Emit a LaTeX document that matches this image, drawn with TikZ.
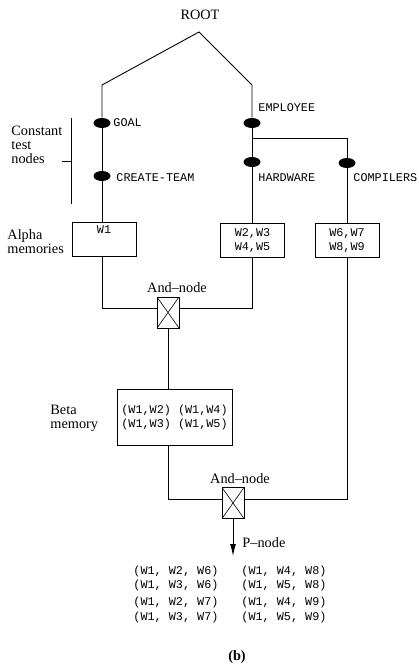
\documentclass[tikz,border=0pt]{standalone}
\usepackage{fontspec}
\setmainfont{Liberation Serif}
\setmonofont{Liberation Mono}
\usetikzlibrary{arrows.meta, positioning, shapes.geometric}

\begin{document}
\begin{tikzpicture}[x=1pt, y=-1pt,
  line width=0.9pt,
  tst/.style={ellipse, fill=black, minimum width=17pt, minimum height=10pt, inner sep=0pt},
  mem/.style={draw, minimum width=64pt, minimum height=34pt, inner sep=1pt, align=center,
    font=\ttfamily\fontsize{11.8}{14}\selectfont},
  andnode/.style={draw, minimum width=22pt, minimum height=31pt, inner sep=0pt,
    path picture={\draw[line width=0.6pt] (path picture bounding box.north west) -- (path picture bounding box.south east)
      (path picture bounding box.south west) -- (path picture bounding box.north east);}},
  lbl/.style={font=\fontsize{14.3}{13.8}\selectfont, inner sep=0pt, align=left},
  tt/.style={font=\ttfamily\fontsize{11.8}{14}\selectfont, inner sep=0pt}
]
  \useasboundingbox (0,0) rectangle (419,668);

  % root and constant test nodes
  \node[lbl] (root) at (200,15) {ROOT};
  \coordinate (apex) at (199,32);
  \coordinate (lk) at (102,85);
  \coordinate (rk) at (252,85);
  \node[tst] (goal) at (102,123) {};
  \node[tst] (emp)  at (252,123) {};
  \node[tst] (ct)   at (102,176) {};
  \node[tst] (hw)   at (252,162) {};
  \node[tst] (comp) at (347,163) {};
  \coordinate (br) at (252,138);
  \node[tt, anchor=west] (goallbl) at (113,123) {GOAL};
  \node[tt, anchor=west] (emplbl)  at (258,108) {EMPLOYEE};
  \node[tt, anchor=west] (ctlbl)   at (116,178) {CREATE-TEAM};
  \node[tt, anchor=west] (hwlbl)   at (258,178) {HARDWARE};
  \node[tt, anchor=west] (complbl) at (353,178) {COMPILERS};

  % alpha memories
  \node[mem] (am1) at (104,239.5) {W1\\[5pt]};
  \node[mem] (am2) at (252.5,240.5) {W2,W3\\W4,W5};
  \node[mem] (am3) at (347,240.5) {W6,W7\\W8,W9};

  % and-nodes and beta memory
  \node[andnode] (and1) at (168,312.5) {};
  \node[lbl, above=3pt of and1, xshift=9pt] (and1lbl) {And--node};
  \node[mem, minimum width=115pt, minimum height=56pt] (beta) at (174.5,417) {(W1,W2) (W1,W4)\\(W1,W3) (W1,W5)};
  \node[andnode] (and2) at (233,503) {};
  \node[lbl, above=3pt of and2, xshift=7pt] (and2lbl) {And--node};
  \coordinate (pend) at (233,556);
  \node[lbl, anchor=west] (plbl) at (242,543) {P--node};

  % side labels
  \node[lbl, anchor=west] (ctn)   at (11,145) {Constant\\test\\nodes};
  \node[lbl, anchor=west] (alpha) at (7,242) {Alpha\\memories};
  \node[lbl, anchor=west] (betalbl) at (50,418) {Beta\\memory};
  \draw (71,118) -- (71,204);
  \draw (62,161) -- (71,161);

  % connectors
  \draw (goal) -- (lk) -- (apex) -- (rk) -- (emp);
  \draw (goal) -- (ct);
  \draw (ct) -- (ct |- am1.north);
  \draw (emp) -- (hw);
  \draw (hw) -- (hw |- am2.north);
  \draw (br) -| (comp);
  \draw (comp) -- (comp |- am3.north);
  \draw (ct |- am1.south) |- ([yshift=4pt]and1.west);
  \draw (hw |- am2.south) |- ([yshift=4pt]and1.east);
  \draw (and1.south) -- (and1.south |- beta.north);
  \draw (and1.south |- beta.south) |- ([yshift=4pt]and2.west);
  \draw (comp |- am3.south) |- ([yshift=4pt]and2.east);
  \draw[-{Latex[length=12pt, width=6pt]}] (and2) -- (pend);

  % p-node results
  \foreach \y/\a/\b in {571/{(W1, W2, W6)}/{(W1, W4, W8)}, 585/{(W1, W3, W6)}/{(W1, W5, W8)},
                        602/{(W1, W2, W7)}/{(W1, W4, W9)}, 617/{(W1, W3, W7)}/{(W1, W5, W9)}}{
    \node[tt, anchor=west] at (133,\y) {\a};
    \node[tt, anchor=west] at (241,\y) {\b};
  }

  \node[lbl, font=\bfseries\fontsize{14.3}{14}\selectfont] (cap) at (237,657) {(b)};
\end{tikzpicture}
\end{document}
